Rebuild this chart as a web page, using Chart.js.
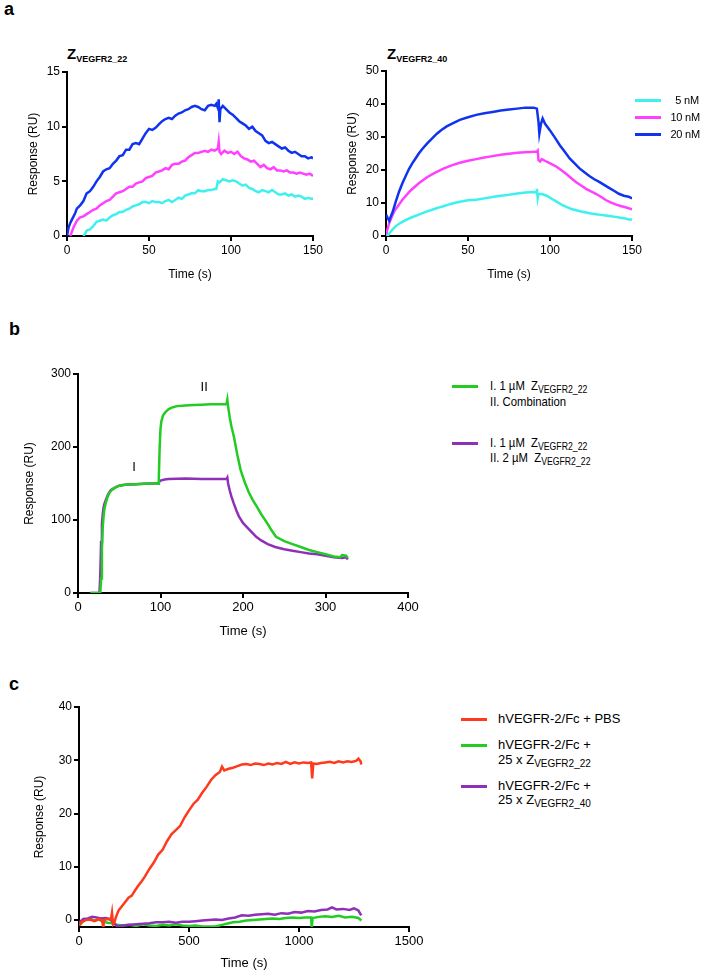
<!DOCTYPE html>
<html>
<head>
<meta charset="utf-8">
<script src="https://cdn.jsdelivr.net/npm/chart.js@4.4.1/dist/chart.umd.min.js"></script>
<style>
  body { margin: 0; background: #fff; }
  #page { position: relative; width: 703px; height: 974px; overflow: hidden; font-family: "Liberation Sans", Arial, sans-serif; color: #000; }
  canvas { position: absolute; }
  .lbl { position: absolute; white-space: nowrap; line-height: 1; }
  .panel { font-weight: bold; font-size: 18px; }
  .ztitle { font-weight: bold; font-size: 15px; }
  .ztitle sub { font-size: 9px; vertical-align: -3px; }
  .legA { font-size: 11px; letter-spacing: -0.2px; }
  .narrow { font-family: "Liberation Sans Narrow", "Liberation Sans", Arial, sans-serif; font-size: 13px; }
  .narrow sub { font-size: 10px; vertical-align: -3px; }
  .squeeze { transform: scaleX(0.87); transform-origin: left center; }
  .swatch { position: absolute; height: 3px; }
</style>
</head>
<body>
<div id="page">
  <div class="lbl panel" style="left:4px;top:0px">a</div>
  <div class="lbl panel" style="left:9px;top:320px">b</div>
  <div class="lbl panel" style="left:9px;top:675px">c</div>

  <div class="lbl ztitle" style="left:67px;top:46px">Z<sub>VEGFR2_22</sub></div>
  <div class="lbl ztitle" style="left:387px;top:46px">Z<sub>VEGFR2_40</sub></div>

  <canvas id="chartA22" width="340" height="250" style="left:0px;top:40px"></canvas>
  <canvas id="chartA40" width="322" height="250" style="left:330px;top:40px"></canvas>
  <canvas id="chartB" width="430" height="305" style="left:0px;top:340px"></canvas>
  <canvas id="chartC" width="430" height="294" style="left:0px;top:680px"></canvas>

  <!-- legend a -->
  <div class="swatch" style="left:635px;top:99px;width:26px;background:#3ff0f0"></div>
  <div class="lbl legA" style="right:4px;top:95px">5 nM</div>
  <div class="swatch" style="left:635px;top:116px;width:26px;background:#ff40ff"></div>
  <div class="lbl legA" style="right:3px;top:112px">10 nM</div>
  <div class="swatch" style="left:635px;top:133px;width:26px;background:#1033f0"></div>
  <div class="lbl legA" style="right:3px;top:129px">20 nM</div>

  <!-- legend b -->
  <div class="swatch" style="left:452px;top:385px;width:26px;background:#22cc22"></div>
  <div class="lbl narrow squeeze" style="left:490px;top:379px">I. 1 µM&nbsp; Z<sub>VEGFR2_22</sub></div>
  <div class="lbl narrow squeeze" style="left:490px;top:395px">II. Combination</div>
  <div class="swatch" style="left:452px;top:442px;width:26px;background:#8e30b8"></div>
  <div class="lbl narrow squeeze" style="left:490px;top:436px">I. 1 µM&nbsp; Z<sub>VEGFR2_22</sub></div>
  <div class="lbl narrow squeeze" style="left:490px;top:451px">II. 2 µM&nbsp; Z<sub>VEGFR2_22</sub></div>

  <!-- legend c -->
  <div class="swatch" style="left:461px;top:718px;width:26px;background:#ff3a1c"></div>
  <div class="lbl narrow" style="left:498px;top:712px">hVEGFR-2/Fc + PBS</div>
  <div class="swatch" style="left:461px;top:744px;width:26px;background:#22cc22"></div>
  <div class="lbl narrow" style="left:498px;top:738px">hVEGFR-2/Fc +</div>
  <div class="lbl narrow" style="left:498px;top:753px">25 x Z<sub>VEGFR2_22</sub></div>
  <div class="swatch" style="left:461px;top:785px;width:26px;background:#8e30b8"></div>
  <div class="lbl narrow" style="left:498px;top:779px">hVEGFR-2/Fc +</div>
  <div class="lbl narrow" style="left:498px;top:793px">25 x Z<sub>VEGFR2_40</sub></div>
</div>

<script>
// ---- panel a, Z_VEGFR2_22 ----
const a22BlueT = [0, 1, 2, 3, 4, 5, 6, 8, 10, 12, 14, 16, 18, 20, 22, 24, 26, 28, 30, 32, 34, 36, 38, 40, 42, 44, 46, 48, 50, 52, 54, 56, 58, 60, 62, 64, 66, 68, 70, 72, 74, 76, 78, 80, 82, 84, 86, 88, 90, 91, 92, 92.5, 93, 93.5, 95, 97, 99, 101, 103, 105, 107, 109, 111, 113, 115, 117, 119, 121, 123, 125, 127, 129, 131, 133, 135, 137, 139, 141, 143, 145, 147, 149, 150];
const a22Blue = [0, 0.8, 1.2, 1.5, 1.8, 2.1, 2.5, 2.8, 3.2, 3.9, 4.1, 4.5, 5.0, 5.4, 5.9, 6.1, 6.2, 6.6, 6.9, 7.3, 7.4, 7.9, 7.9, 8.4, 8.5, 8.4, 8.9, 9.4, 9.8, 9.7, 9.9, 10.2, 10.5, 10.7, 10.8, 10.7, 11.0, 11.2, 11.3, 11.5, 11.6, 11.8, 11.9, 11.8, 11.6, 11.5, 11.9, 12.0, 11.9, 12.1, 11.7, 12.5, 10.4, 11.6, 11.9, 11.6, 11.3, 11.1, 10.8, 10.5, 10.3, 10.1, 9.8, 10.0, 9.6, 9.4, 9.2, 8.7, 8.5, 8.6, 8.4, 8.2, 8.0, 8.1, 7.8, 7.6, 7.7, 7.5, 7.3, 7.3, 7.1, 7.2, 7.1];
const a22MagT = [2, 3, 4, 5, 6, 8, 10, 12, 14, 16, 18, 20, 22, 24, 26, 28, 30, 32, 34, 36, 38, 40, 42, 44, 46, 48, 50, 52, 54, 56, 58, 60, 62, 64, 66, 68, 70, 72, 74, 76, 78, 80, 82, 84, 86, 88, 90, 91, 92, 92.5, 93, 94, 96, 98, 100, 102, 104, 106, 108, 110, 112, 114, 116, 118, 120, 122, 124, 126, 128, 130, 132, 134, 136, 138, 140, 142, 144, 146, 148, 150];
const a22Mag = [0, 0.4, 0.8, 1.1, 1.4, 1.7, 1.8, 2.0, 2.2, 2.4, 2.5, 2.8, 3.0, 3.2, 3.3, 3.6, 3.9, 4.0, 4.1, 4.3, 4.5, 4.5, 4.8, 4.9, 5.0, 5.3, 5.4, 5.5, 5.8, 5.9, 6.0, 6.2, 6.1, 6.5, 6.6, 6.6, 6.8, 6.9, 7.2, 7.4, 7.6, 7.6, 7.7, 7.8, 7.7, 7.9, 7.8, 7.9, 8.0, 8.6, 7.7, 7.5, 7.8, 7.6, 7.7, 7.5, 7.7, 7.3, 7.1, 7.0, 6.8, 6.9, 6.6, 6.3, 6.5, 6.2, 6.1, 6.3, 6.0, 6.0, 5.9, 6.0, 5.8, 5.8, 5.7, 5.8, 5.7, 5.6, 5.7, 5.5];
const a22CyanT = [10, 11, 12, 14, 16, 18, 20, 22, 24, 26, 28, 30, 32, 34, 36, 38, 40, 42, 44, 46, 48, 50, 52, 54, 56, 58, 60, 62, 64, 66, 68, 70, 72, 74, 76, 78, 80, 82, 84, 86, 88, 90, 91, 92, 93, 95, 97, 99, 101, 103, 105, 107, 109, 111, 113, 115, 117, 119, 121, 123, 125, 127, 129, 131, 133, 135, 137, 139, 141, 143, 145, 147, 149, 150];
const a22Cyan = [0, 0.2, 0.5, 0.6, 0.9, 1.3, 1.4, 1.5, 1.4, 1.7, 1.9, 2.0, 2.2, 2.2, 2.4, 2.5, 2.7, 2.8, 2.9, 3.1, 3.1, 3.0, 3.2, 3.1, 3.1, 3.0, 3.2, 3.3, 3.1, 3.3, 3.5, 3.4, 3.7, 3.8, 3.9, 3.9, 4.2, 4.1, 4.1, 4.2, 4.2, 4.3, 4.3, 5.0, 4.9, 5.2, 5.1, 5.0, 5.1, 5.0, 4.8, 4.6, 4.7, 4.4, 4.3, 4.1, 4.0, 4.2, 4.1, 4.0, 4.2, 4.0, 3.8, 3.8, 3.9, 3.7, 3.8, 3.6, 3.7, 3.6, 3.4, 3.5, 3.4, 3.4];

// ---- panel a, Z_VEGFR2_40 ----
const a40BlueT = [0, 1, 2, 3, 4, 6, 8, 10, 12, 14, 16, 18, 20, 22, 25, 28, 31, 34, 37, 40, 45, 50, 55, 60, 65, 70, 75, 80, 85, 90, 92, 93, 93.5, 94.5, 95.5, 97, 100, 103, 106, 109, 112, 115, 118, 121, 124, 127, 130, 133, 136, 139, 142, 145, 148, 150];
const a40Blue = [6.5, 5.5, 4.6, 6.0, 7.2, 10.5, 13.5, 16.0, 18.2, 20.3, 22.0, 23.5, 25.0, 26.3, 28.0, 29.5, 31.0, 32.2, 33.2, 34.0, 35.2, 36.0, 36.7, 37.2, 37.6, 38.0, 38.3, 38.6, 38.9, 38.9, 38.6, 34.5, 31.0, 34.0, 35.6, 34.0, 32.0, 29.8, 27.5, 25.5, 23.5, 22.0, 20.5, 19.3, 18.2, 17.2, 16.4, 15.5, 14.6, 13.7, 12.8, 12.2, 11.9, 11.4];
const a40MagT = [0, 1, 2, 5, 10, 15, 20, 25, 30, 35, 40, 45, 50, 55, 60, 65, 70, 75, 80, 85, 90, 92, 92.5, 93, 94, 95, 98, 101, 104, 107, 110, 113, 116, 119, 122, 125, 128, 131, 134, 137, 140, 143, 146, 150];
const a40Mag = [0.5, 2.2, 4.0, 7.5, 11.0, 13.8, 16.0, 17.8, 19.2, 20.4, 21.4, 22.2, 22.8, 23.3, 23.8, 24.2, 24.6, 24.9, 25.2, 25.4, 25.5, 25.6, 25.9, 23.0, 22.6, 23.3, 22.5, 21.8, 21.0, 19.9, 18.8, 17.5, 16.3, 15.3, 14.3, 13.5, 12.8, 11.9, 10.9, 10.2, 9.6, 9.1, 8.7, 8.1];
const a40CyanT = [0, 0.5, 1, 2, 4, 6, 8, 10, 12, 14, 17, 20, 23, 26, 29, 32, 35, 38, 41, 45, 50, 55, 60, 65, 70, 75, 80, 85, 90, 91.5, 92, 92.5, 93, 95, 98, 101, 104, 107, 110, 113, 116, 119, 122, 125, 128, 131, 134, 137, 140, 143, 146, 148, 150];
const a40Cyan = [1.2, 0.8, 0, 0.8, 2.0, 3.0, 3.7, 4.3, 4.8, 5.3, 5.9, 6.5, 7.1, 7.6, 8.1, 8.6, 9.0, 9.5, 9.9, 10.4, 10.8, 11.0, 11.4, 11.8, 12.2, 12.5, 12.9, 13.2, 13.3, 13.2, 14.3, 11.5, 12.8, 12.7, 12.2, 11.3, 10.4, 9.5, 8.8, 8.2, 7.8, 7.4, 7.1, 6.8, 6.6, 6.4, 6.2, 6.0, 5.8, 5.5, 5.3, 5.0, 5.0];

// ---- panel b ----
const bGreenT = [15, 27, 28, 29, 30, 31, 32, 34, 36, 38, 40, 43, 46, 50, 55, 60, 70, 80, 90, 97, 98, 99, 100, 101, 103, 106, 110, 115, 120, 130, 140, 150, 160, 170, 180, 181, 182, 184, 186, 189, 193, 197, 202, 207, 212, 217, 222, 228, 234, 240, 250, 260, 270, 280, 290, 300, 310, 318, 320, 325, 327];
const bGreen = [0, 0, 20, 60, 90, 105, 115, 125, 132, 137, 140, 143, 145, 147, 148, 148.5, 149, 149.5, 150, 150, 160, 200, 225, 235, 243, 248, 252, 254.5, 256, 257, 257.5, 258, 258.5, 258.5, 259, 265, 255, 240, 228, 214, 190, 169, 152, 138, 127, 118, 108, 98, 87, 77, 71, 67, 63, 59, 56, 53, 50, 49, 52, 51, 48];
const bPurpleT = [15, 26, 27, 28, 29, 30, 31, 32, 34, 36, 38, 40, 43, 46, 50, 55, 60, 70, 80, 90, 97, 98, 100, 105, 110, 120, 130, 140, 150, 160, 170, 180, 181, 182, 184, 186, 189, 192, 195, 200, 205, 210, 216, 222, 230, 239, 250, 260, 270, 280, 290, 300, 310, 320, 325, 327];
const bPurple = [0, 0, 25, 70, 95, 108, 117, 122, 128, 134, 138, 141, 143, 145, 147, 148, 148.5, 149, 149.5, 150, 150, 152, 154, 155.5, 156, 156.5, 157, 156.5, 156, 156, 156, 156, 158, 150, 140, 132, 122, 113, 105, 96, 90, 84, 77, 72, 67, 63, 60, 58, 56, 54, 53, 51, 49, 48, 49, 46];

// ---- panel c ----
const cRedT = [5, 10, 20, 30, 50, 70, 90, 105, 110, 112, 130, 145, 150, 155, 160, 170, 180, 195, 210, 225, 240, 255, 270, 285, 300, 320, 340, 360, 380, 400, 420, 440, 460, 480, 500, 520, 540, 560, 580, 600, 620, 640, 650, 660, 680, 700, 720, 740, 760, 780, 800, 820, 840, 860, 880, 900, 920, 940, 960, 980, 1000, 1020, 1040, 1055, 1060, 1065, 1080, 1100, 1120, 1140, 1160, 1180, 1200, 1220, 1240, 1260, 1270, 1280, 1283];
const cRed = [-1.0, -0.4, -0.2, 0, 0.1, -0.2, 0.2, -0.1, -1.3, 0.0, 0.2, 0.1, 1.4, -0.8, -0.5, 0.8, 1.8, 2.6, 3.4, 4.2, 4.6, 5.6, 6.5, 7.3, 8.2, 9.6, 10.8, 12.3, 13.2, 14.8, 16.1, 16.9, 17.7, 19.3, 20.6, 21.8, 22.6, 23.9, 25.0, 26.3, 27.2, 27.8, 28.8, 28.1, 28.4, 28.6, 28.9, 29.2, 29.3, 29.1, 29.4, 29.3, 29.1, 29.4, 29.2, 29.5, 29.3, 29.7, 29.3, 29.6, 29.4, 29.6, 29.5, 29.6, 26.6, 29.4, 29.3, 29.5, 29.6, 29.7, 29.5, 29.8, 29.6, 29.8, 29.7, 29.9, 30.3, 29.8, 29.2];
const cGreenT = [0, 10, 30, 50, 70, 90, 110, 130, 150, 170, 200, 230, 260, 290, 320, 350, 380, 410, 440, 470, 500, 530, 560, 590, 620, 650, 680, 700, 730, 760, 790, 820, 850, 880, 910, 940, 970, 1000, 1030, 1055, 1058, 1062, 1090, 1120, 1150, 1180, 1210, 1240, 1270, 1283];
const cGreen = [-1.0, -0.6, 0.1, 0.3, -0.1, 0.1, -0.3, -0.5, -0.6, -0.9, -1.0, -0.9, -1.1, -0.8, -1.0, -1.1, -0.9, -1.0, -0.8, -1.0, -1.1, -1.0, -1.2, -1.2, -1.2, -0.9, -0.6, -0.4, -0.3, -0.1, 0.0, 0.1, 0.2, 0.3, 0.2, 0.4, 0.5, 0.4, 0.5, 0.5, -1.5, 0.4, 0.6, 0.7, 0.6, 0.8, 0.5, 0.6, 0.4, -0.1];
const cPurpleT = [0, 20, 40, 60, 80, 100, 120, 140, 160, 175, 200, 230, 260, 290, 320, 350, 380, 410, 440, 470, 500, 530, 560, 590, 620, 650, 680, 710, 740, 770, 800, 830, 860, 890, 920, 950, 980, 1010, 1040, 1070, 1100, 1130, 1150, 1170, 1200, 1230, 1250, 1270, 1283];
const cPurple = [-0.5, 0.2, 0.3, 0.6, 0.5, 0.3, 0.4, 0.2, -0.6, -1.2, -1.0, -0.9, -0.8, -0.7, -0.6, -0.4, -0.4, -0.3, -0.5, -0.3, -0.3, -0.2, -0.1, 0.0, 0.1, 0.0, 0.3, 0.5, 0.9, 0.8, 1.0, 1.1, 1.2, 1.0, 1.3, 1.2, 1.5, 1.4, 1.7, 1.6, 1.9, 2.0, 2.4, 2.0, 2.1, 1.9, 2.2, 1.8, 0.9];

// tick values
const a22XTicks = [0, 50, 100, 150];
const a22YTicks = [0, 5, 10, 15];
const a40XTicks = [0, 50, 100, 150];
const a40YTicks = [0, 10, 20, 30, 40, 50];
const bXTicks = [0, 100, 200, 300, 400];
const bYTicks = [0, 100, 200, 300];
const cXTicks = [0, 500, 1000, 1500];
const cYTicks = [0, 10, 20, 30, 40];

const CYAN = "#3ff0f0";
const MAGENTA = "#ff40ff";
const BLUE = "#1033f0";
const GREEN = "#22cc22";
const PURPLE = "#8e30b8";
const RED = "#ff3a1c";

const SANS = "'Liberation Sans', Arial, sans-serif";
const NARROW = "'Liberation Sans Narrow', 'Liberation Sans', Arial, sans-serif";

function pts(xs, ys) {
  return xs.map((x, i) => ({ x: x, y: ys[i] }));
}

function series(xs, ys, color) {
  return {
    data: pts(xs, ys),
    borderColor: color,
    backgroundColor: color,
    borderWidth: 2.5,
    pointRadius: 0,
    tension: 0,
  };
}

/**
 * Build one GraphPad-like axis (left/bottom line, outward ticks, no grid)
 */
function axis(o) {
  return {
    type: "linear",
    min: o.min,
    max: o.max,
    afterBuildTicks: (scale) => {
      scale.ticks = o.ticks.map((v) => ({ value: v }));
    },
    afterFit: (scale) => {
      if (o.width) scale.width = o.width;
      if (o.height) scale.height = o.height;
    },
    border: { display: true, color: "#000", width: 2 },
    grid: {
      display: true,
      drawOnChartArea: false,
      drawTicks: true,
      tickLength: 5,
      color: "#000",
      lineWidth: 2,
    },
    ticks: {
      color: "#000",
      padding: 2,
      maxRotation: 0,
      font: { family: o.family, size: o.size },
      callback: (v) => String(v),
    },
    title: {
      display: true,
      text: o.title,
      color: "#000",
      font: { family: o.family, size: o.size },
      padding: o.titlePad,
    },
  };
}

// draw "I" / "II" step markers in panel b at data coordinates
const stepLabels = [
  { text: "I", x: 68, y: 172 },
  { text: "II", x: 153, y: 281 },
];
const stepLabelPlugin = {
  id: "stepLabels",
  afterDatasetsDraw(chart) {
    if (chart.canvas.id !== "chartB") return;
    const { ctx, scales } = chart;
    ctx.save();
    ctx.fillStyle = "#000";
    ctx.font = "13px " + NARROW;
    ctx.textAlign = "center";
    ctx.textBaseline = "middle";
    for (const s of stepLabels) {
      ctx.fillText(s.text, scales.x.getPixelForValue(s.x), scales.y.getPixelForValue(s.y));
    }
    ctx.restore();
  },
};

// note: the first dataset is painted on top
function makeChart(id, datasets, xAxis, yAxis, padding) {
  return new Chart(document.getElementById(id), {
    type: "line",
    data: { datasets: datasets },
    options: {
      responsive: false,
      animation: false,
      devicePixelRatio: 1,
      layout: { padding: padding },
      plugins: { legend: { display: false }, tooltip: { enabled: false } },
      scales: { x: xAxis, y: yAxis },
    },
    plugins: [stepLabelPlugin],
  });
}

makeChart(
  "chartA22",
  [series(a22BlueT, a22Blue, BLUE), series(a22MagT, a22Mag, MAGENTA), series(a22CyanT, a22Cyan, CYAN)],
  axis({ min: 0, max: 150, ticks: a22XTicks, title: "Time (s)", family: SANS, size: 12, height: 54, titlePad: { top: 0, bottom: 8 } }),
  axis({ min: 0, max: 15, ticks: a22YTicks, title: "Response (RU)", family: SANS, size: 12, width: 67, titlePad: { top: 26, bottom: 0 } }),
  { top: 32, right: 27, bottom: 0, left: 0 }
);

makeChart(
  "chartA40",
  [series(a40BlueT, a40Blue, BLUE), series(a40MagT, a40Mag, MAGENTA), series(a40CyanT, a40Cyan, CYAN)],
  axis({ min: 0, max: 150, ticks: a40XTicks, title: "Time (s)", family: SANS, size: 12, height: 54, titlePad: { top: 0, bottom: 8 } }),
  axis({ min: 0, max: 50, ticks: a40YTicks, title: "Response (RU)", family: SANS, size: 12, width: 56, titlePad: { top: 15, bottom: 0 } }),
  { top: 31, right: 20, bottom: 0, left: 0 }
);

makeChart(
  "chartB",
  [series(bGreenT, bGreen, GREEN), series(bPurpleT, bPurple, PURPLE)],
  axis({ min: 0, max: 400, ticks: bXTicks, title: "Time (s)", family: NARROW, size: 13, height: 52, titlePad: { top: 0, bottom: 6 } }),
  axis({ min: 0, max: 300, ticks: bYTicks, title: "Response (RU)", family: SANS, size: 12, width: 78, titlePad: { top: 22, bottom: 0 } }),
  { top: 34, right: 22, bottom: 0, left: 0 }
);

makeChart(
  "chartC",
  [series(cRedT, cRed, RED), series(cPurpleT, cPurple, PURPLE), series(cGreenT, cGreen, GREEN)],
  axis({ min: 0, max: 1500, ticks: cXTicks, title: "Time (s)", family: NARROW, size: 13, height: 47, titlePad: { top: 0, bottom: 3 } }),
  axis({ min: -1.3, max: 40, ticks: cYTicks, title: "Response (RU)", family: SANS, size: 12, width: 79, titlePad: { top: 32, bottom: 0 } }),
  { top: 27, right: 21, bottom: 0, left: 0 }
);
</script>
</body>
</html>
